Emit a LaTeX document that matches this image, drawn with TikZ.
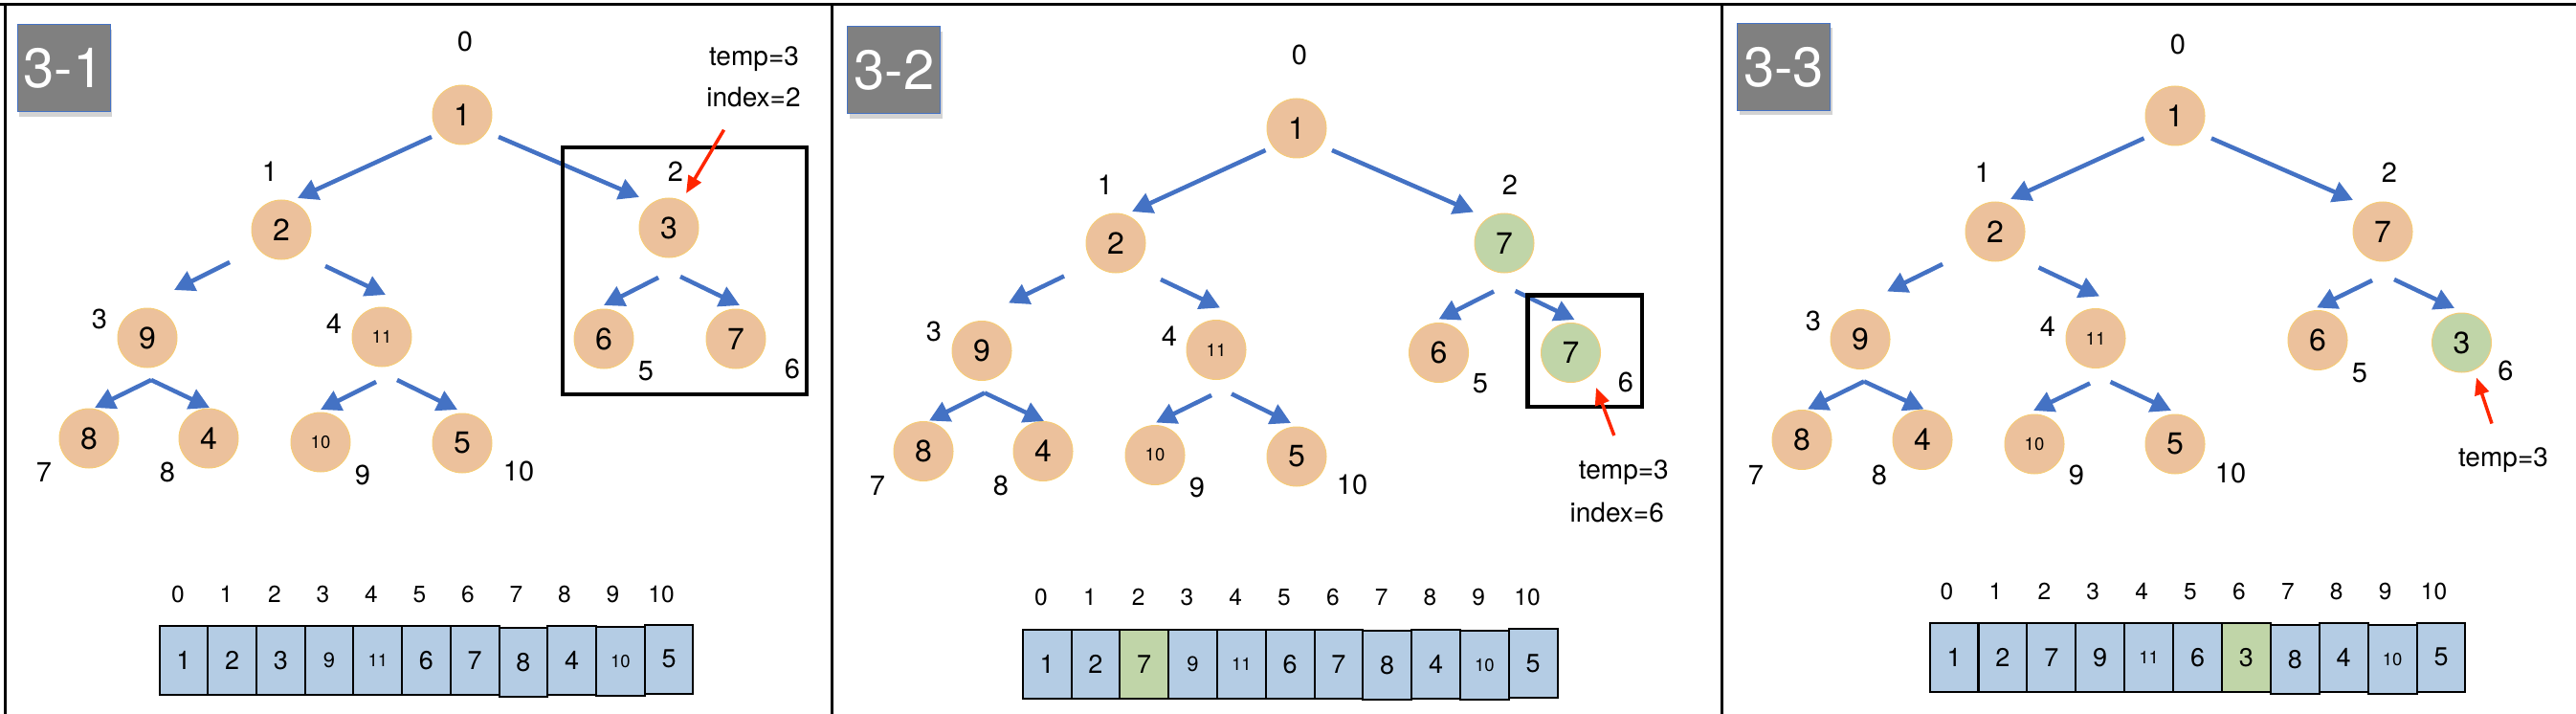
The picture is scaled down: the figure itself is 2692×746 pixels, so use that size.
\documentclass[tikz,border=0pt]{standalone}
\usepackage{fontspec}
\setmainfont{TeX Gyre Heros}
\usetikzlibrary{arrows.meta}
\usetikzlibrary{calc}
\usetikzlibrary{shadows}

\definecolor{peach}{RGB}{236,193,156}
\definecolor{peachline}{RGB}{246,204,118}
\definecolor{sage}{RGB}{192,213,168}
\definecolor{cellblue}{RGB}{180,204,228}
\definecolor{linkblue}{RGB}{68,114,196}
\definecolor{hotred}{RGB}{255,38,0}
\definecolor{tabgray}{RGB}{128,128,128}

\tikzset{
  heapnode/.style={circle,fill=peach,draw=peachline,line width=1pt,minimum size=62pt,inner sep=0pt,font=\fontsize{32}{34}\selectfont},
  swapnode/.style={heapnode,fill=sage},
  tinyval/.style={font=\fontsize{18.5}{19}\selectfont},
  midval/.style={font=\fontsize{22}{23}\selectfont},
  idx/.style={inner sep=0pt,font=\fontsize{29}{30}\selectfont},
  slot/.style={draw=black,line width=2pt,fill=cellblue,minimum width=50.8pt,minimum height=72pt,inner sep=0pt,font=\fontsize{27}{29}\selectfont},
  slotidx/.style={inner sep=0pt,font=\fontsize{24.5}{25}\selectfont},
  note/.style={inner sep=0pt,anchor=base,font=\fontsize{28}{30}\selectfont},
  tab/.style={fill=tabgray,draw=linkblue,line width=1pt,minimum width=97pt,minimum height=91pt,text=white,font=\fontsize{58}{60}\selectfont,drop shadow={opacity=0.35,shadow xshift=2pt,shadow yshift=-5pt}},
  link/.style={draw=linkblue,line width=4.5pt,-{Triangle[length=21pt,width=22pt]}},
  ptr/.style={draw=hotred,line width=3.5pt,-{Triangle[length=18pt,width=15pt]}},
  hilite/.style={draw=black,line width=4.5pt},
  panelrule/.style={draw=black,line width=3pt},
}

\begin{document}
\begin{tikzpicture}[x=1pt,y=-1pt]
  \useasboundingbox (0,0) rectangle (2692,746);
  \draw[panelrule] (0,5) -- (2692,5);
  \draw[panelrule] (5.5,5) -- (5.5,746);
  \draw[panelrule] (869.5,5) -- (869.5,746);
  \draw[panelrule] (1799,5) -- (1799,746);

  \node (tag1) [tab] at (66.5,71.5) {3-1};
  \path (483,120) node (a0) [heapnode] {1}
    (294,240) node (a1) [heapnode] {2}
    (699,238) node (a2) [heapnode] {3}
    (154,353) node (a3) [heapnode] {9}
    (399,352) node (a4) [heapnode,tinyval] {11}
    (631,354) node (a5) [heapnode] {6}
    (769,354) node (a6) [heapnode] {7}
    (93,458) node (a7) [heapnode] {8}
    (218,458) node (a8) [heapnode] {4}
    (335,462) node (a9) [heapnode,tinyval] {10}
    (483,463) node (a10) [heapnode] {5}
    ;
  \path (486,43) node (ai0) [idx] {0}
    (282,179) node (ai1) [idx] {1}
    (706,179) node (ai2) [idx] {2}
    (104,333) node (ai3) [idx] {3}
    (349,338) node (ai4) [idx] {4}
    (675,388) node (ai5) [idx] {5}
    (828,385) node (ai6) [idx] {6}
    (46,493) node (ai7) [idx] {7}
    (175,493) node (ai8) [idx] {8}
    (379,496) node (ai9) [idx] {9}
    (542,492) node (ai10) [idx] {10}
    ;
  \draw[link] ($(a0)+(-32,23)$) -- ($(a1)+(17,-33)$);
  \draw[link] ($(a0)+(38,23)$) -- ($(a2)+(-31,-32)$);
  \draw[link] ($(a1)+(-54,34)$) -- ($(a3)+(28,-50)$);
  \draw[link] ($(a1)+(46,38)$) -- ($(a4)+(4,-44)$);
  \draw[link] ($(a2)+(-11,52)$) -- ($(a5)+(0,-35)$);
  \draw[link] ($(a2)+(12,51)$) -- ($(a6)+(4,-35)$);
  \draw[link] ($(a3)+(4,44)$) -- ($(a7)+(6,-32)$);
  \draw[link] ($(a3)+(4,44)$) -- ($(a8)+(1,-32)$);
  \draw[link] ($(a4)+(-6,47)$) -- ($(a9)+(0,-34)$);
  \draw[link] ($(a4)+(16,45)$) -- ($(a10)+(-5,-35)$);
  \draw[hilite] (588,154) rectangle (843,412);
  \node (tp1) [note] at (788,68.3) {temp=3};
  \node (ix1) [note] at (787.5,111.7) {index=2};
  \draw[ptr] ($(ix1.base)+(-31,24)$) -- ($(a2)+(18,-36)$);
  \path (186,621) node (al0) [slotidx] {0} ++(50.5,0)
    node (al1) [slotidx] {1} ++(50.5,0)
    node (al2) [slotidx] {2} ++(50.5,0)
    node (al3) [slotidx] {3} ++(50.5,0)
    node (al4) [slotidx] {4} ++(50.5,0)
    node (al5) [slotidx] {5} ++(50.5,0)
    node (al6) [slotidx] {6} ++(50.5,0)
    node (al7) [slotidx] {7} ++(50.5,0)
    node (al8) [slotidx] {8} ++(50.5,0)
    node (al9) [slotidx] {9} ++(50.5,0)
    node (al10) [slotidx] {10}
    ;
  \path (192,689.7) node (as0) [slot] {1} ++(50.7,0)
    node (as1) [slot] {2} ++(50.7,0)
    node (as2) [slot] {3} ++(50.7,0)
    node (as3) [slot,midval] {9} ++(50.7,0)
    node (as4) [slot,tinyval] {11} ++(50.7,0)
    node (as5) [slot] {6} ++(50.7,0)
    node (as6) [slot] {7} ++(50.7,2)
    node (as7) [slot] {8} ++(50.7,-2)
    node (as8) [slot] {4} ++(50.7,1.5)
    node (as9) [slot,tinyval] {10} ++(50.7,-2.5)
    node (as10) [slot] {5}
    ;

  \node (tag2) [tab] at (934.4,73.3) {3-2};
  \path (1355,134) node (b0) [heapnode] {1}
    (1166,254) node (b1) [heapnode] {2}
    (1572,254) node (b2) [swapnode] {7}
    (1026,366.5) node (b3) [heapnode] {9}
    (1271,365.5) node (b4) [heapnode,tinyval] {11}
    (1503.5,368.5) node (b5) [heapnode] {6}
    (1641.5,368.5) node (b6) [swapnode] {7}
    (965,471.5) node (b7) [heapnode] {8}
    (1090,471.5) node (b8) [heapnode] {4}
    (1207,475.5) node (b9) [heapnode,tinyval] {10}
    (1355,477) node (b10) [heapnode] {5}
    ;
  \path (1358,57) node (bi0) [idx] {0}
    (1155,193) node (bi1) [idx] {1}
    (1578,193) node (bi2) [idx] {2}
    (976,346) node (bi3) [idx] {3}
    (1222,351) node (bi4) [idx] {4}
    (1547,401) node (bi5) [idx] {5}
    (1699,399) node (bi6) [idx] {6}
    (917,507) node (bi7) [idx] {7}
    (1046,507) node (bi8) [idx] {8}
    (1251,509) node (bi9) [idx] {9}
    (1413,506) node (bi10) [idx] {10}
    ;
  \draw[link] ($(b0)+(-32.5,23)$) -- ($(b1)+(17,-33)$);
  \draw[link] ($(b0)+(37,23)$) -- ($(b2)+(-32,-32.5)$);
  \draw[link] ($(b1)+(-54,34.5)$) -- ($(b3)+(28,-50)$);
  \draw[link] ($(b1)+(47,38)$) -- ($(b4)+(4,-44)$);
  \draw[link] ($(b2)+(-11,50.5)$) -- ($(b5)+(0,-35)$);
  \draw[link] ($(b2)+(11.5,50)$) -- ($(b6)+(4,-34.5)$);
  \draw[link] ($(b3)+(3,44)$) -- ($(b7)+(6,-32)$);
  \draw[link] ($(b3)+(3,44)$) -- ($(b8)+(1,-31.5)$);
  \draw[link] ($(b4)+(-5,47.5)$) -- ($(b9)+(1,-34)$);
  \draw[link] ($(b4)+(16,46)$) -- ($(b10)+(-6,-35)$);
  \draw[hilite] (1596.5,308.5) rectangle (1716,425);
  \node (tp2) [note] at (1696.8,500) {temp=3};
  \node (ix2) [note] at (1689.7,545.7) {index=6};
  \draw[ptr] ($(tp2.base)+(-10,-45)$) -- ($(b6)+(26.5,36.5)$);
  \path (1088,624) node (bl0) [slotidx] {0} ++(50.8,0)
    node (bl1) [slotidx] {1} ++(50.8,0)
    node (bl2) [slotidx] {2} ++(50.8,0)
    node (bl3) [slotidx] {3} ++(50.8,0)
    node (bl4) [slotidx] {4} ++(50.8,0)
    node (bl5) [slotidx] {5} ++(50.8,0)
    node (bl6) [slotidx] {6} ++(50.8,0)
    node (bl7) [slotidx] {7} ++(50.8,0)
    node (bl8) [slotidx] {8} ++(50.8,0)
    node (bl9) [slotidx] {9} ++(50.8,0)
    node (bl10) [slotidx] {10}
    ;
  \path (1094.1,694.2) node (bs0) [slot] {1} ++(50.8,0)
    node (bs1) [slot] {2} ++(50.8,0)
    node (bs2) [slot,fill=sage] {7} ++(50.8,0)
    node (bs3) [slot,midval] {9} ++(50.8,0)
    node (bs4) [slot,tinyval] {11} ++(50.8,0)
    node (bs5) [slot] {6} ++(50.8,0)
    node (bs6) [slot] {7} ++(50.8,1.1)
    node (bs7) [slot] {8} ++(50.8,-1.3)
    node (bs8) [slot] {4} ++(50.8,1.2)
    node (bs9) [slot,tinyval] {10} ++(50.8,-1.9)
    node (bs10) [slot] {5}
    ;

  \node (tag3) [tab] at (1864.3,69.9) {3-3};
  \path (2273,121) node (c0) [heapnode] {1}
    (2085,242) node (c1) [heapnode] {2}
    (2490,242) node (c2) [heapnode] {7}
    (1944,354.5) node (c3) [heapnode] {9}
    (2190,353.5) node (c4) [heapnode,tinyval] {11}
    (2422,355.5) node (c5) [heapnode] {6}
    (2572.5,358) node (c6) [swapnode] {3}
    (1883,459.5) node (c7) [heapnode] {8}
    (2009,459.5) node (c8) [heapnode] {4}
    (2126,464) node (c9) [heapnode,tinyval] {10}
    (2273,464) node (c10) [heapnode] {5}
    ;
  \path (2276,46) node (ci0) [idx] {0}
    (2072,180) node (ci1) [idx] {1}
    (2497,180) node (ci2) [idx] {2}
    (1895,335) node (ci3) [idx] {3}
    (2140,341) node (ci4) [idx] {4}
    (2466,390) node (ci5) [idx] {5}
    (2618.5,387) node (ci6) [idx] {6}
    (1835,496) node (ci7) [idx] {7}
    (1964,496) node (ci8) [idx] {8}
    (2170,496) node (ci9) [idx] {9}
    (2331,494) node (ci10) [idx] {10}
    ;
  \draw[link] ($(c0)+(-32.5,23.5)$) -- ($(c1)+(16,-34)$);
  \draw[link] ($(c0)+(38,23.5)$) -- ($(c2)+(-31,-33)$);
  \draw[link] ($(c1)+(-55,34)$) -- ($(c3)+(28,-50)$);
  \draw[link] ($(c1)+(45.5,37.5)$) -- ($(c4)+(4,-44)$);
  \draw[link] ($(c2)+(-11,51)$) -- ($(c5)+(-1,-34)$);
  \draw[link] ($(c2)+(12,50)$) -- ($(c6)+(-7.5,-36)$);
  \draw[link] ($(c3)+(4,44)$) -- ($(c7)+(6,-32)$);
  \draw[link] ($(c3)+(4,44)$) -- ($(c8)+(1.5,-32)$);
  \draw[link] ($(c4)+(-6,47)$) -- ($(c9)+(-1,-35)$);
  \draw[link] ($(c4)+(15.5,45.5)$) -- ($(c10)+(-4,-35)$);
  \node (tp3) [note] at (2616,487.5) {temp=3};
  \draw[ptr] ($(tp3.base)+(-12,-45)$) -- ($(c6)+(15.5,36.5)$);
  \path (2034.5,618.3) node (cl0) [slotidx] {0} ++(50.9,0)
    node (cl1) [slotidx] {1} ++(50.9,0)
    node (cl2) [slotidx] {2} ++(50.9,0)
    node (cl3) [slotidx] {3} ++(50.9,0)
    node (cl4) [slotidx] {4} ++(50.9,0)
    node (cl5) [slotidx] {5} ++(50.9,0)
    node (cl6) [slotidx] {6} ++(50.9,0)
    node (cl7) [slotidx] {7} ++(50.9,0)
    node (cl8) [slotidx] {8} ++(50.9,0)
    node (cl9) [slotidx] {9} ++(50.9,0)
    node (cl10) [slotidx] {10}
    ;
  \path (2042,687.3) node (cs0) [slot] {1} ++(50.9,0)
    node (cs1) [slot] {2} ++(50.9,0)
    node (cs2) [slot] {7} ++(50.9,0)
    node (cs3) [slot] {9} ++(50.9,0)
    node (cs4) [slot,tinyval] {11} ++(50.9,0)
    node (cs5) [slot] {6} ++(50.9,0)
    node (cs6) [slot,fill=sage] {3} ++(50.9,1.5)
    node (cs7) [slot] {8} ++(50.9,-1.5)
    node (cs8) [slot] {4} ++(50.9,1.9)
    node (cs9) [slot,tinyval] {10} ++(50.9,-2.5)
    node (cs10) [slot] {5}
    ;
\end{tikzpicture}
\end{document}
